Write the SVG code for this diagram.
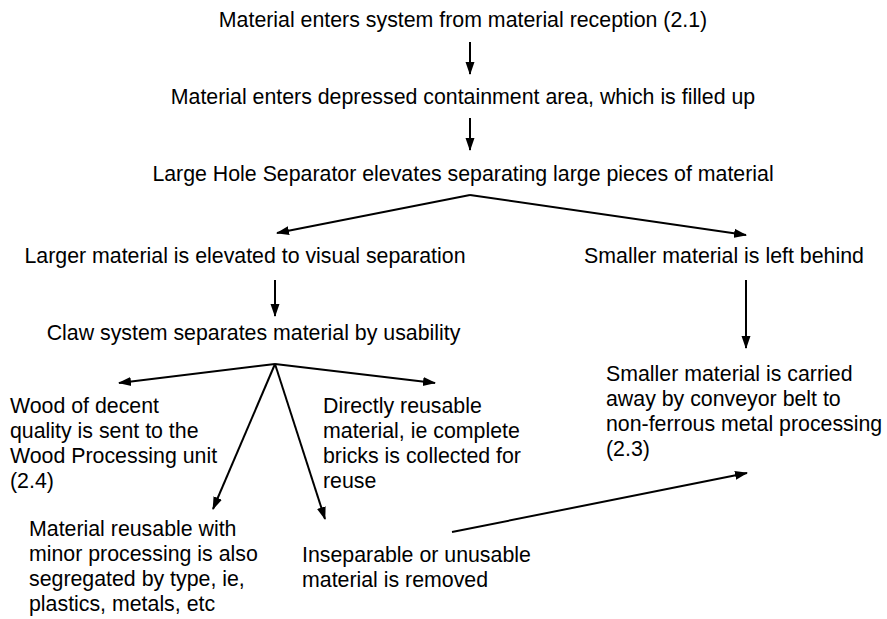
<svg xmlns="http://www.w3.org/2000/svg" width="887" height="619" viewBox="0 0 887 619">
<defs>
<marker id="ah" markerWidth="13" markerHeight="10" refX="12" refY="5" orient="auto" markerUnits="userSpaceOnUse">
<path d="M0,0.5 L13,5 L0,9.5 Z" fill="#000"/>
</marker>
<style>
text{font-family:"Liberation Sans",Arial,sans-serif;font-size:21.33px;fill:#000}
.c{stroke:#000;stroke-width:2;fill:none;marker-end:url(#ah)}
</style>
</defs>
<rect width="887" height="619" fill="#fff"/>
<g id="n1"><text x="463" y="27" text-anchor="middle">Material enters system from material reception (2.1)</text></g>
<g id="n2"><text x="463" y="103.5" text-anchor="middle">Material enters depressed containment area, which is filled up</text></g>
<g id="n3"><text x="463" y="180.5" text-anchor="middle">Large Hole Separator elevates separating large pieces of material</text></g>
<g id="n4"><text x="245" y="263" text-anchor="middle">Larger material is elevated to visual separation</text></g>
<g id="n5"><text x="724" y="263" text-anchor="middle">Smaller material is left behind</text></g>
<g id="n6"><text x="253.5" y="340" text-anchor="middle">Claw system separates material by usability</text></g>
<g id="n7"><text x="10" y="413"><tspan x="10">Wood of decent</tspan><tspan x="10" dy="25">quality is sent to the</tspan><tspan x="10" dy="25">Wood Processing unit</tspan><tspan x="10" dy="25">(2.4)</tspan></text></g>
<g id="n8"><text x="323" y="413"><tspan x="323">Directly reusable</tspan><tspan x="323" dy="25">material, ie complete</tspan><tspan x="323" dy="25">bricks is collected for</tspan><tspan x="323" dy="25">reuse</tspan></text></g>
<g id="n9"><text x="606" y="381"><tspan x="606">Smaller material is carried</tspan><tspan x="606" dy="25">away by conveyor belt to</tspan><tspan x="606" dy="25">non-ferrous metal processing</tspan><tspan x="606" dy="25">(2.3)</tspan></text></g>
<g id="n10"><text x="29" y="536"><tspan x="29">Material reusable with</tspan><tspan x="29" dy="25">minor processing is also</tspan><tspan x="29" dy="25">segregated by type, ie,</tspan><tspan x="29" dy="25">plastics, metals, etc</tspan></text></g>
<g id="n11"><text x="302" y="561.5"><tspan x="302">Inseparable or unusable</tspan><tspan x="302" dy="25">material is removed</tspan></text></g>
<g id="connectors">
<line class="c" x1="470" y1="42" x2="470" y2="74"/>
<line class="c" x1="470" y1="118" x2="470" y2="150"/>
<line class="c" x1="470" y1="195" x2="277" y2="233"/>
<line class="c" x1="470" y1="195" x2="746" y2="235"/>
<line class="c" x1="275" y1="280" x2="275" y2="316"/>
<line class="c" x1="746" y1="280" x2="746" y2="348"/>
<line class="c" x1="275" y1="364" x2="119" y2="383"/>
<line class="c" x1="275" y1="364" x2="435" y2="383"/>
<line class="c" x1="275" y1="364" x2="213" y2="509"/>
<line class="c" x1="275" y1="364" x2="325" y2="519"/>
<line class="c" x1="452" y1="532" x2="747" y2="473"/>
</g>
</svg>
